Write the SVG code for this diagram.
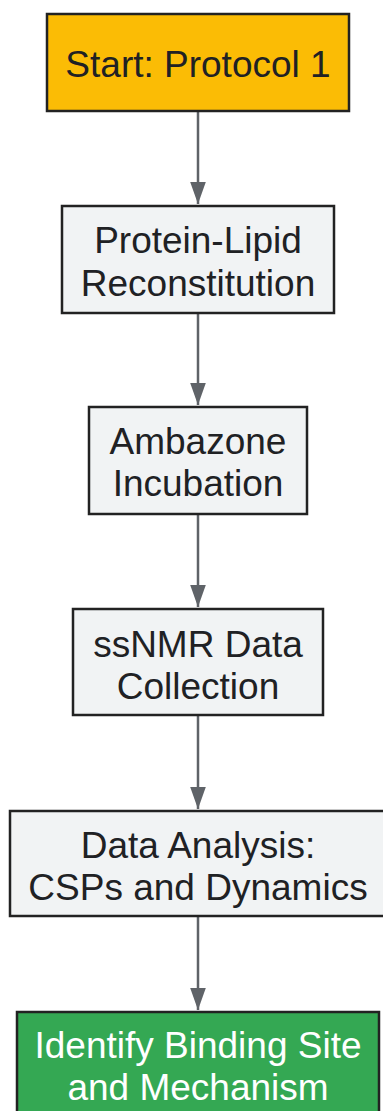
<svg xmlns="http://www.w3.org/2000/svg" width="383" height="1111" viewBox="0 0 383 1111">
<style>
.box{stroke:#222222;stroke-width:2.5;}
.grey{fill:#f1f3f4;}
.t{font-family:"Liberation Sans",Arial,sans-serif;font-size:37px;text-anchor:middle;fill:#202124;}
.w{fill:#ffffff;}
.edge{stroke:#5f6368;stroke-width:2.5;fill:none;}
</style>
<defs>
<marker id="arr" markerUnits="userSpaceOnUse" markerWidth="22" markerHeight="31" refX="31" refY="11" orient="auto" viewBox="0 0 31 22">
<path d="M0,0 L31,11 L0,22 Z" fill="#5f6368"/>
</marker>
</defs>
<g id="connectors">
<path class="edge" d="M198,112 L198,204" marker-end="url(#arr)"/>
<path class="edge" d="M198,313 L198,405" marker-end="url(#arr)"/>
<path class="edge" d="M198,514 L198,607" marker-end="url(#arr)"/>
<path class="edge" d="M198,715 L198,809" marker-end="url(#arr)"/>
<path class="edge" d="M198,916 L198,1010" marker-end="url(#arr)"/>
</g>
<g id="start">
<rect class="box" x="47" y="14" width="302" height="97" fill="#fbbc05"/>
<text class="t" x="198" y="77">Start: Protocol 1</text>
</g>
<g id="reconstitution">
<rect class="box grey" x="62" y="206" width="272" height="107"/>
<text class="t" x="198" y="253">Protein-Lipid</text>
<text class="t" x="198" y="296">Reconstitution</text>
</g>
<g id="incubation">
<rect class="box grey" x="89" y="407" width="218" height="107"/>
<text class="t" x="198" y="454">Ambazone</text>
<text class="t" x="198" y="496">Incubation</text>
</g>
<g id="collection">
<rect class="box grey" x="73" y="609" width="250" height="106"/>
<text class="t" x="198" y="657">ssNMR Data</text>
<text class="t" x="198" y="699">Collection</text>
</g>
<g id="analysis">
<rect class="box grey" x="10" y="811" width="376" height="105"/>
<text class="t" x="198" y="858">Data Analysis:</text>
<text class="t" x="198" y="900">CSPs and Dynamics</text>
</g>
<g id="identify">
<rect class="box" x="17" y="1012" width="362" height="110" fill="#34a853"/>
<text class="t w" x="198" y="1058">Identify Binding Site</text>
<text class="t w" x="198" y="1100">and Mechanism</text>
</g>
</svg>
